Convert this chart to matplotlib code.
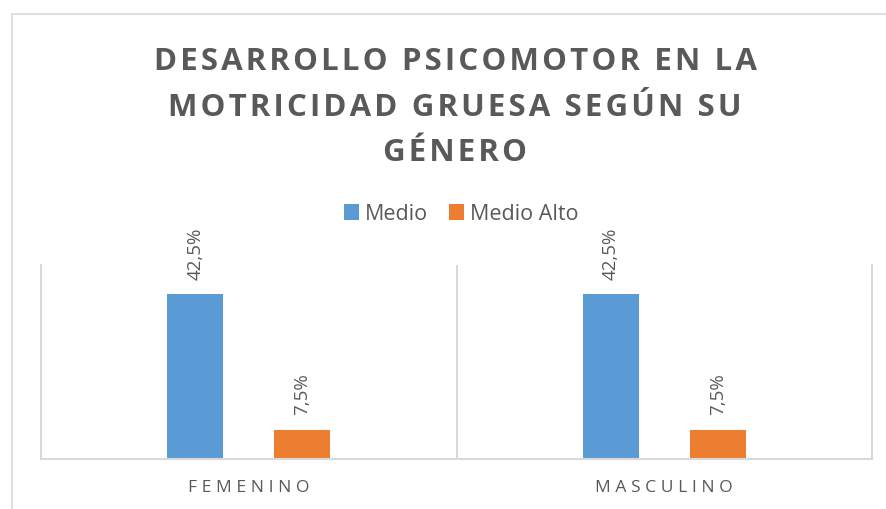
import matplotlib.pyplot as plt
import matplotlib.patches as patches
import numpy as np

plt.rcParams['font.family'] = ['Open Sans', 'DejaVu Sans']

categorias = ['FEMENINO', 'MASCULINO']
series = ['Medio', 'Medio Alto']
medio = [42.5, 42.5]
medio_alto = [7.5, 7.5]
etiquetas_medio = ['42,5%', '42,5%']
etiquetas_alto = ['7,5%', '7,5%']
titulo = ['DESARROLLO PSICOMOTOR EN LA', 'MOTRICIDAD GRUESA SEGÚN SU', 'GÉNERO']

azul = '#5b9bd5'
naranja = '#ed7d31'
gris = '#595959'
linea = '#d9d9d9'


def espaciar(s, sep='\u200a'):
    # Excel usa espaciado entre letras; se imita con espacios finos
    return sep.join(s)


fig = plt.figure(figsize=(8.86, 5.09), dpi=100)
W, H = 886, 509

# borde del area del grafico
fig.patches.append(patches.Rectangle((12 / W, -0.05), 1.0, 1 - 14 / H + 0.05,
                                     transform=fig.transFigure, fill=False,
                                     edgecolor=linea, linewidth=1.2))

ax = fig.add_axes([41 / W, 50 / H, (872 - 41) / W, (459 - 265) / H])

x = np.arange(len(categorias))
ancho = 0.135
desp = 0.129
b1 = ax.bar(x - desp, medio, ancho, color=azul, label=series[0])
b2 = ax.bar(x + desp, medio_alto, ancho, color=naranja, label=series[1])

for barras, etq in [(b1, etiquetas_medio), (b2, etiquetas_alto)]:
    for b, t in zip(barras, etq):
        ax.annotate(t, (b.get_x() + b.get_width() / 2, b.get_height()),
                    xytext=(0, 10.5), textcoords='offset points',
                    rotation=90, ha='center', va='bottom',
                    fontsize=13.5, color=gris)

ax.set_xlim(-0.5, 1.5)
ax.set_ylim(0, 50)
ax.set_yticks([])
ax.set_xticks(x)
ax.set_xticklabels([espaciar(c, '\u2009\u200a') for c in categorias], fontsize=12.5, color=gris)
ax.tick_params(axis='x', length=0, pad=15)
for s in ['left', 'right', 'bottom']:
    ax.spines[s].set_color(linea)
    ax.spines[s].set_linewidth(1.5)
ax.spines['top'].set_visible(False)
ax.axvline(0.5, color=linea, linewidth=1.5)

for i, linea_t in enumerate(titulo):
    fig.text(455 / W, 1 - (62 + 45.5 * i) / H, espaciar(linea_t), ha='center', va='center',
             fontsize=22.5, fontweight='bold', color=gris)

ax.legend(handles=[b1, b2], loc='center', bbox_to_anchor=(461 / W, 1 - 214 / H),
          bbox_transform=fig.transFigure, ncol=2, frameon=False, fontsize=15.5,
          labelcolor=gris, handlelength=0.7, handleheight=0.7, handletextpad=0.25,
          columnspacing=1.0)

fig.savefig('out.png', dpi=100)
